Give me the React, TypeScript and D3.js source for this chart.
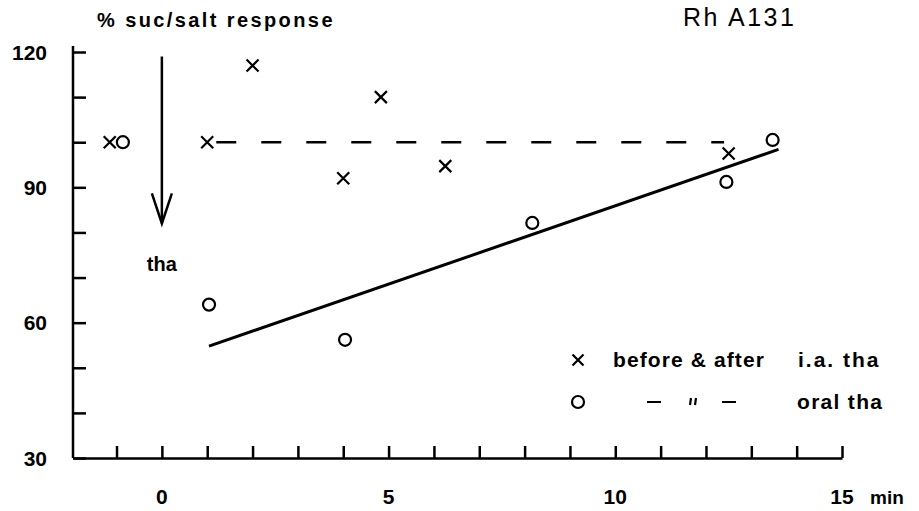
import React, { useEffect, useRef } from 'react';
import * as d3 from 'd3';

// time in min, 0 = thalidomide application
const crossTimes = [-1.15, 1.0, 2.0, 4.0, 4.83, 6.25, 12.5];
const crossValues = [100, 100, 117, 92, 110, 94.7, 97.5];
const circleTimes = [-0.86, 1.04, 4.04, 8.17, 12.45, 13.47];
const circleValues = [100, 64, 56.2, 82.1, 91.2, 100.5];

// regression line for oral tha, dashed reference level for i.a. tha
const fitTimes = [1.04, 13.6];
const fitValues = [54.8, 98.4];
const refTimes = [1.2, 12.4];
const refValues = [100, 100];

// the application arrow
const arrowTimes = [0, 0];
const arrowValues = [119, 82];

const xTicks = [-1, 0, 1, 2, 3, 4, 5, 6, 7, 8, 9, 10, 11, 12, 13, 14, 15];
const xTickLabels = [0, 5, 10, 15];
const yTicks = [30, 40, 50, 60, 70, 80, 90, 100, 110, 120];
const yTickLabels = [30, 60, 90, 120];

const FONT = '"Liberation Sans", Arial, sans-serif';

const App: React.FC = () => {
  const ref = useRef<SVGSVGElement>(null);

  useEffect(() => {
    const svg = d3.select(ref.current);
    svg.selectAll('*').remove();

    const x = d3.scaleLinear().domain([-1.96, 15]).range([73, 842]);
    const y = d3.scaleLinear().domain([30, 120]).range([458, 52]);

    svg.append('rect').attr('width', 919).attr('height', 511).attr('fill', '#fff');

    // axes, ticks pointing into the plot
    const yAxis = svg
      .append('g')
      .attr('transform', `translate(${x(-1.96)},0)`)
      .call(d3.axisRight(y).tickValues(yTicks).tickSize(13).tickSizeOuter(0).tickFormat(() => ''));
    const xAxis = svg
      .append('g')
      .attr('transform', `translate(0,${y(30)})`)
      .call(d3.axisTop(x).tickValues(xTicks).tickSize(12).tickSizeOuter(0).tickFormat(() => ''));
    [yAxis, xAxis].forEach((g) => {
      g.selectAll('path, line').attr('stroke', '#000').attr('stroke-width', 2.5);
    });
    yAxis.select('.domain').attr('d', `M0,${y(30)}V${y(120) - 6}`);

    svg
      .append('g')
      .selectAll('text')
      .data(yTickLabels)
      .enter()
      .append('text')
      .attr('x', 47)
      .attr('y', (d) => y(d))
      .attr('dy', '0.36em')
      .attr('text-anchor', 'end')
      .attr('font-family', FONT)
      .attr('font-weight', 'bold')
      .attr('font-size', 21)
      .text((d) => d);

    svg
      .append('g')
      .selectAll('text')
      .data(xTickLabels)
      .enter()
      .append('text')
      .attr('x', (d) => x(d))
      .attr('y', 504)
      .attr('text-anchor', 'middle')
      .attr('font-family', FONT)
      .attr('font-weight', 'bold')
      .attr('font-size', 21)
      .text((d) => d);

    svg
      .append('text')
      .attr('x', 870)
      .attr('y', 504)
      .attr('font-family', FONT)
      .attr('font-weight', 'bold')
      .attr('font-size', 19)
      .text('min');

    // titles
    svg
      .append('text')
      .attr('x', 97)
      .attr('y', 27)
      .attr('font-family', FONT)
      .attr('font-weight', 'bold')
      .attr('font-size', 20)
      .attr('letter-spacing', 2.4)
      .text('% suc/salt response');

    svg
      .append('text')
      .attr('x', 683)
      .attr('y', 26)
      .attr('font-family', FONT)
      .attr('font-size', 25)
      .attr('letter-spacing', 2.5)
      .text('Rh A131');

    // arrow marking thalidomide
    const line = d3
      .line<[number, number]>()
      .x((d) => x(d[0]))
      .y((d) => y(d[1]));
    const arrowPts = arrowTimes.map((t, i) => [t, arrowValues[i]] as [number, number]);
    svg
      .append('path')
      .attr('d', line(arrowPts))
      .attr('stroke', '#000')
      .attr('stroke-width', 2.5)
      .attr('fill', 'none');
    const ax = x(arrowTimes[1]);
    const ay = y(arrowValues[1]);
    svg
      .append('path')
      .attr('d', `M${ax - 10},${ay - 30}L${ax},${ay}L${ax + 10},${ay - 30}`)
      .attr('stroke', '#000')
      .attr('stroke-width', 2.5)
      .attr('fill', 'none');
    svg
      .append('text')
      .attr('x', ax)
      .attr('y', 271)
      .attr('text-anchor', 'middle')
      .attr('font-family', FONT)
      .attr('font-weight', 'bold')
      .attr('font-size', 20)
      .text('tha');

    // reference level and regression
    svg
      .append('path')
      .attr('d', line(refTimes.map((t, i) => [t, refValues[i]] as [number, number])))
      .attr('stroke', '#000')
      .attr('stroke-width', 2.5)
      .attr('stroke-dasharray', '20 25')
      .attr('fill', 'none');
    svg
      .append('path')
      .attr('d', line(fitTimes.map((t, i) => [t, fitValues[i]] as [number, number])))
      .attr('stroke', '#000')
      .attr('stroke-width', 3)
      .attr('fill', 'none');

    // markers
    const cross = (g: d3.Selection<SVGGElement, unknown, null, undefined>, cx: number, cy: number, r: number) => {
      g.append('path')
        .attr('d', `M${cx - r},${cy - r}L${cx + r},${cy + r}M${cx - r},${cy + r}L${cx + r},${cy - r}`)
        .attr('stroke', '#000')
        .attr('stroke-width', 2.2)
        .attr('fill', 'none');
    };
    const marks = svg.append('g');
    crossTimes.forEach((t, i) => cross(marks, x(t), y(crossValues[i]), 6));
    marks
      .selectAll('circle')
      .data(circleTimes)
      .enter()
      .append('circle')
      .attr('cx', (d) => x(d))
      .attr('cy', (d, i) => y(circleValues[i]))
      .attr('r', 6)
      .attr('stroke', '#000')
      .attr('stroke-width', 2.2)
      .attr('fill', 'none');

    // legend
    const legend = svg.append('g');
    cross(legend, 578, 360, 5.5);
    legend
      .append('circle')
      .attr('cx', 578)
      .attr('cy', 402)
      .attr('r', 6)
      .attr('stroke', '#000')
      .attr('stroke-width', 2.2)
      .attr('fill', 'none');
    const legendText = (tx: number, ty: number, s: string, ls: number) =>
      legend
        .append('text')
        .attr('x', tx)
        .attr('y', ty)
        .attr('font-family', FONT)
        .attr('font-weight', 'bold')
        .attr('font-size', 21)
        .attr('letter-spacing', ls)
        .text(s);
    legendText(613, 367, 'before & after', 1.1);
    legendText(798, 367, 'i.a. tha', 2);
    legendText(797, 409, 'oral tha', 1.3);
    legend
      .append('path')
      .attr('d', 'M647,402H661M722,402H736M691,398L690,405M696,398L695,405')
      .attr('stroke', '#000')
      .attr('stroke-width', 2.2)
      .attr('fill', 'none');
  }, []);

  return (
    <svg
      ref={ref}
      width={919}
      height={511}
      style={{ position: 'absolute', left: 0, top: 0, display: 'block' }}
    />
  );
};

export default App;
